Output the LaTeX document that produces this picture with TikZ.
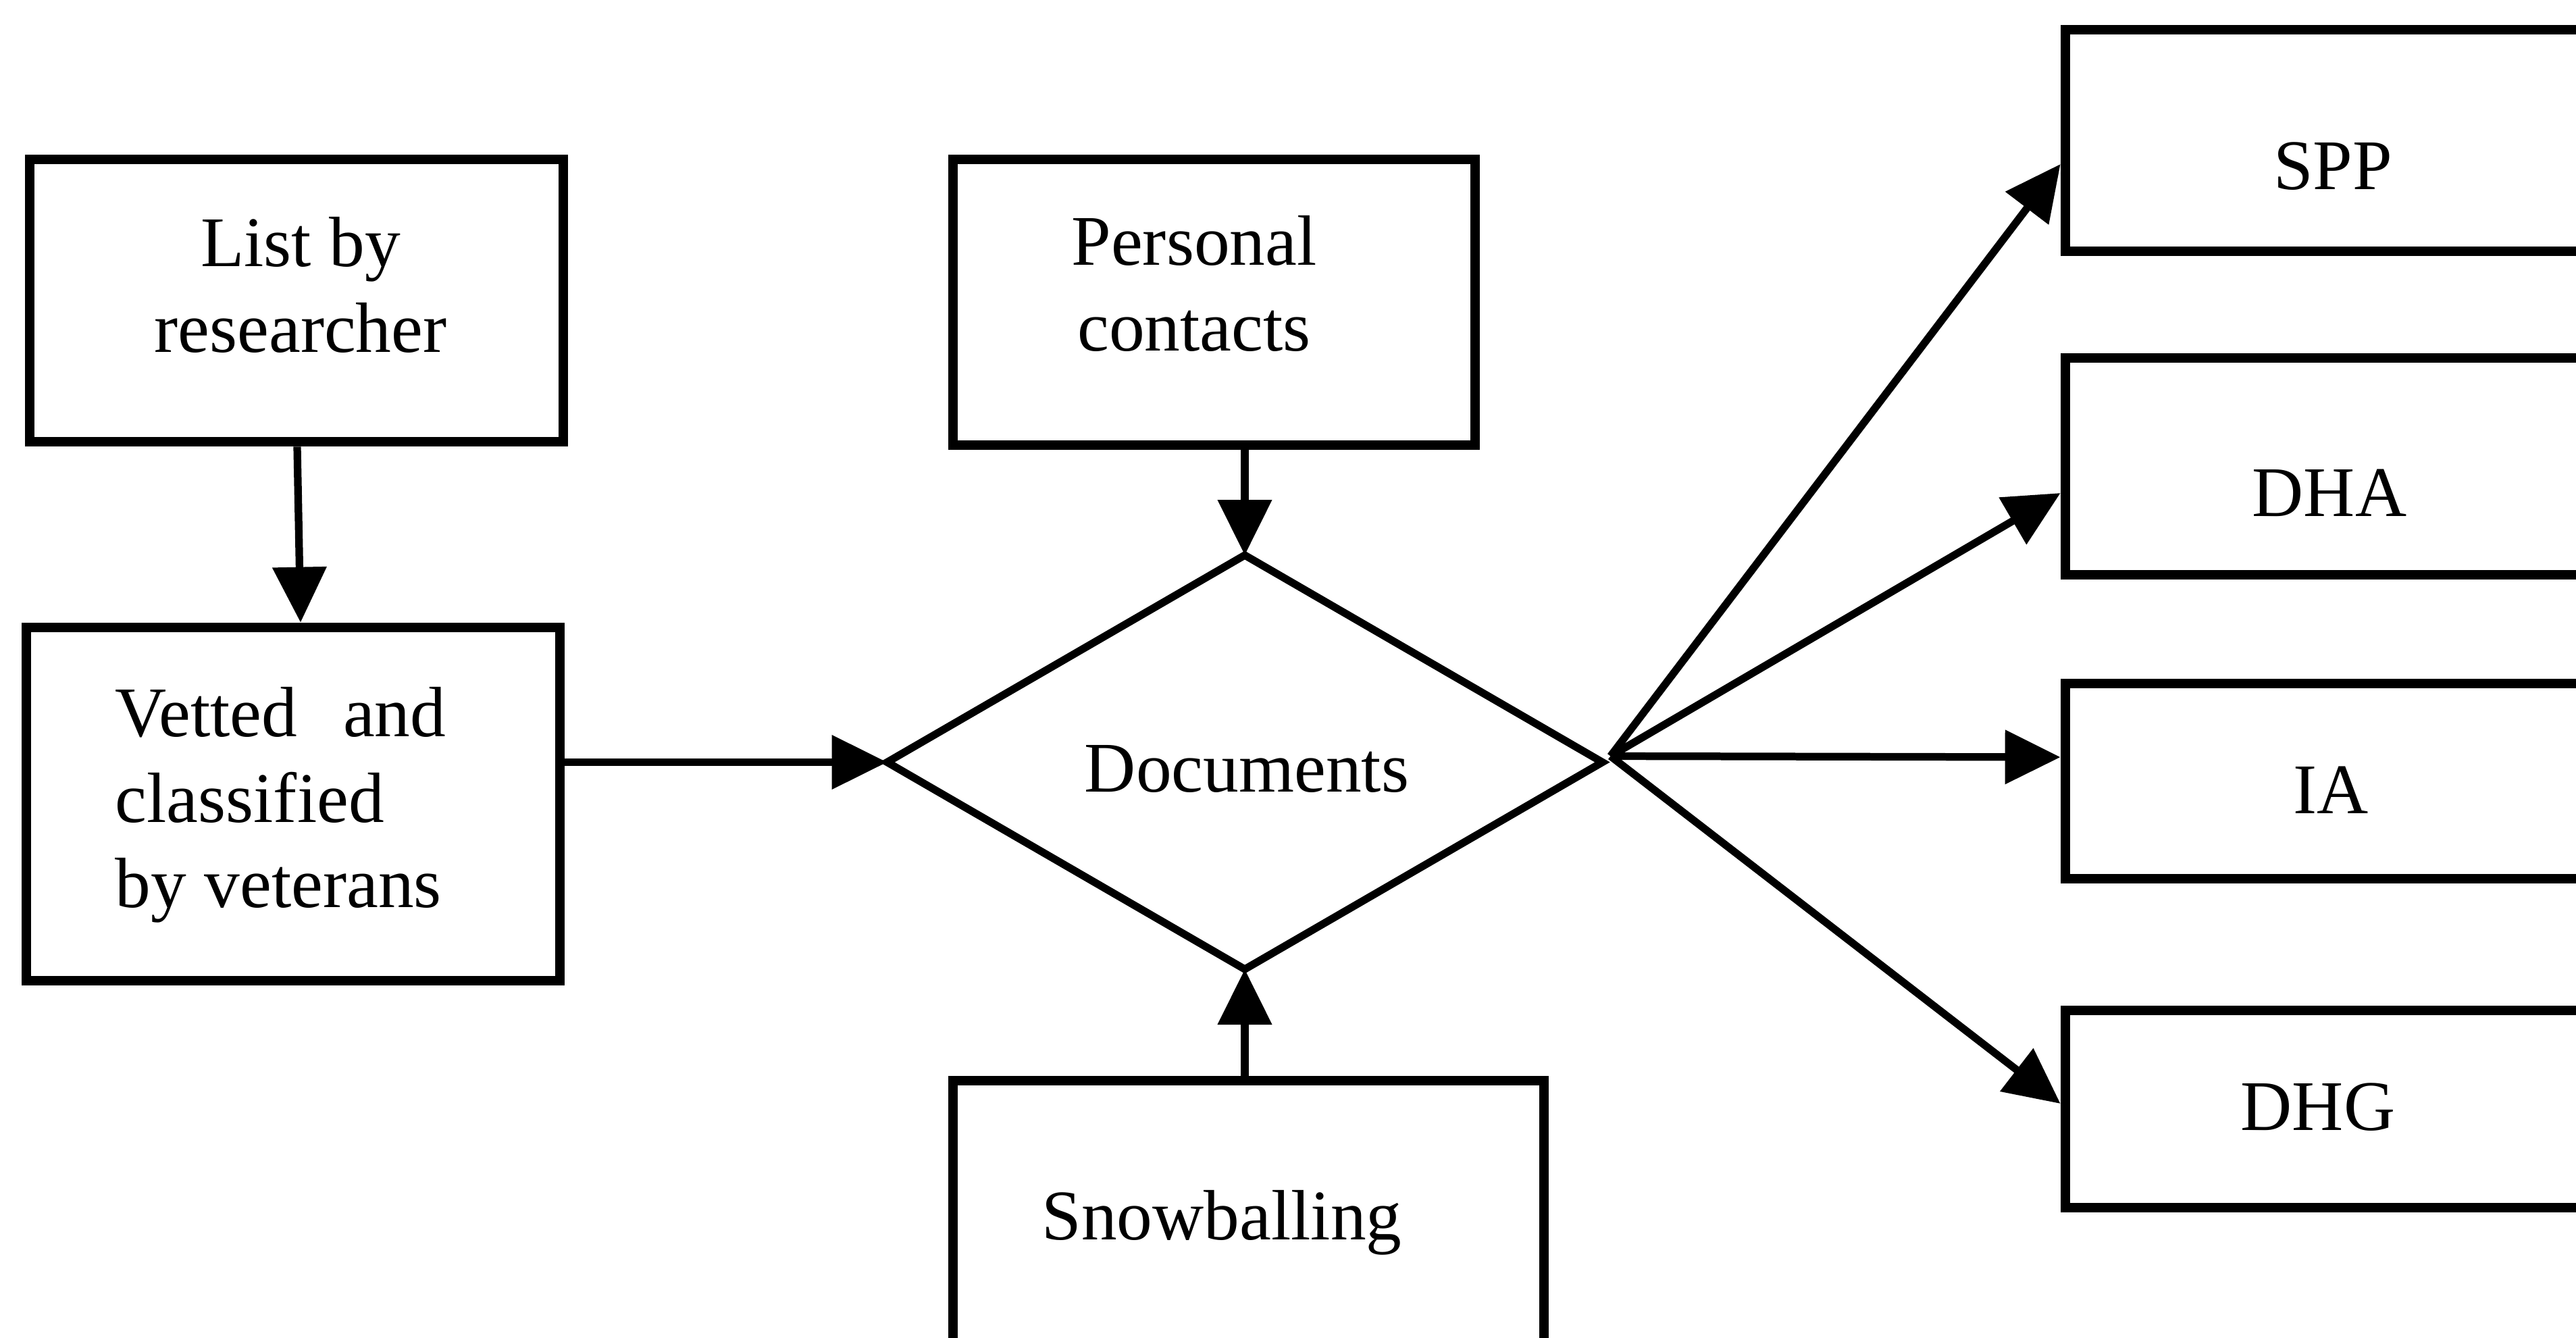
\documentclass[tikz,border=0pt]{standalone}
\usepackage{fontspec}
\setmainfont{Liberation Serif}
\usetikzlibrary{shapes.geometric,arrows.meta,calc}
\begin{document}
\begin{tikzpicture}[
  box/.style={draw, line width=4.2pt, rectangle, inner sep=0pt},
  lbl/.style={font=\fontsize{30}{36}\selectfont, inner sep=0pt, align=center},
  link/.style={line width=3.2pt, -{Triangle[length=0.82cm,width=0.78cm]}},
]
\useasboundingbox (0,0) rectangle (38.14,-19.81);
\clip (0,0) rectangle (38.14,-19.81);

% source boxes on the left
\node[box, minimum width=7.90cm, minimum height=4.18cm] (list) at (4.39,-4.45) {};
\node[box, minimum width=7.90cm, minimum height=5.23cm] (vet) at (4.34,-11.905) {};
\node[lbl] (listt) at (4.45,-4.22) {List by\\researcher};
\node[lbl, anchor=west, align=left] (vett) at (1.70,-11.92) {Vetted\hspace{0.68cm}and\\classified\\by veterans};

% inputs above and below the central decision
\node[box, minimum width=7.73cm, minimum height=4.23cm] (pers) at (17.975,-4.475) {};
\node[lbl] (perst) at (17.68,-4.20) {Personal\\contacts};
\node[box, minimum width=8.75cm, minimum height=4.8cm] (snow) at (18.485,-18.40) {};
\node[lbl] (snowt) at (18.09,-18.10) {Snowballing};

% central diamond
\node[draw, diamond, line width=3.2pt, minimum width=10.59cm, minimum height=6.13cm,
      inner sep=0pt, outer sep=0pt] (docs) at (18.43,-11.285) {};
\node[lbl] (doct) at (18.46,-11.38) {Documents};

% destination boxes on the right
\node[box, minimum width=8.5cm, minimum height=3.28cm] (spp) at (34.83,-2.08) {};
\node[box, minimum width=8.5cm, minimum height=3.21cm] (dha) at (34.83,-6.905) {};
\node[box, minimum width=8.5cm, minimum height=2.89cm] (ia)  at (34.83,-11.565) {};
\node[box, minimum width=8.5cm, minimum height=2.92cm] (dhg) at (34.83,-16.42) {};
\node[lbl] (sppt) at (34.54,-2.46) {SPP};
\node[lbl] (dhat) at (34.49,-7.30) {DHA};
\node[lbl] (iat)  at (34.51,-11.70) {IA};
\node[lbl] (dhgt) at (34.32,-16.39) {DHG};

% connectors
\draw[link] ([xshift=0.01cm]list.south) -- ([xshift=0.11cm]vet.north);
\draw[link] (vet.east |- docs.west) -- (docs.west);
\draw[link] (docs.north |- pers.south) -- (docs.north);
\draw[link] (docs.south |- snow.north) -- (docs.south);
\coordinate (hub) at ($(docs.east)+(0.12,0.09)$);
\draw[link] (hub) -- ([yshift=-0.35cm]spp.west);
\draw[link] (hub) -- ([yshift=-0.395cm]dha.west);
\draw[link] (hub) -- ([yshift=0.355cm]ia.west);
\draw[link] (hub) -- ([yshift=0.08cm]dhg.west);
\end{tikzpicture}
\end{document}
